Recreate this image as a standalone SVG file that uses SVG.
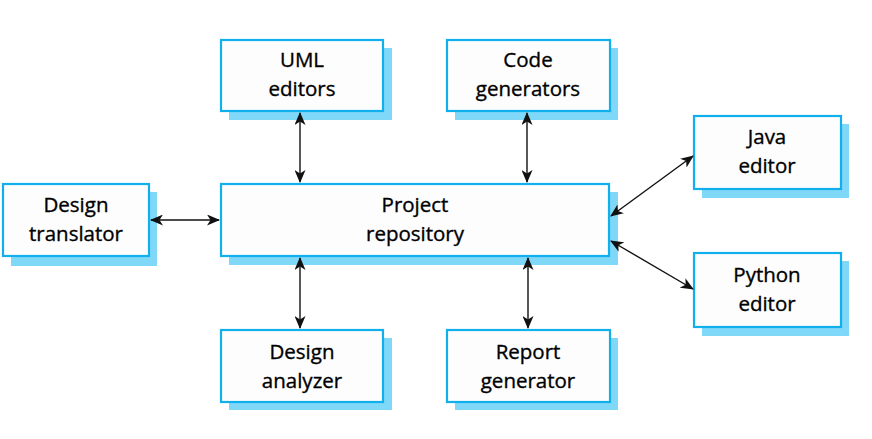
<svg xmlns="http://www.w3.org/2000/svg" width="872" height="439" viewBox="0 0 872 439">
<defs>
<style>
.sh{fill:#80D8F8;}
.bx{fill:#FDFDFD;stroke:#10B0EC;stroke-width:2.2;}
.t{font-family:"Open Sans","Noto Sans",sans-serif;font-size:20.5px;fill:#000;stroke:#000;stroke-width:0.35;text-anchor:middle;}
.c{stroke:#111;stroke-width:1.4;fill:none;marker-start:url(#a);marker-end:url(#a);}
</style>
<marker id="a" viewBox="0 0 13 11" refX="12" refY="5.5" markerWidth="13" markerHeight="11" markerUnits="userSpaceOnUse" orient="auto-start-reverse">
<path d="M0,0 L13,5.5 L0,11 L3.5,5.5 z" fill="#111"/>
</marker>
</defs>
<rect width="872" height="439" fill="#FFFFFF"/>
<g id="uml-editors">
<rect class="sh" x="229" y="48" width="163" height="72"/>
<rect class="bx" x="221" y="40" width="162" height="71"/>
<text class="t" x="302" y="67">UML</text>
<text class="t" x="302" y="96">editors</text>
</g>
<g id="code-generators">
<rect class="sh" x="455" y="48" width="163" height="72"/>
<rect class="bx" x="447" y="40" width="163" height="71"/>
<text class="t" x="528" y="67">Code</text>
<text class="t" x="528" y="96">generators</text>
</g>
<g id="project-repository">
<rect class="sh" x="229" y="192" width="389" height="73"/>
<rect class="bx" x="221" y="184" width="388" height="72"/>
<text class="t" x="415" y="212">Project</text>
<text class="t" x="415" y="241">repository</text>
</g>
<g id="design-translator">
<rect class="sh" x="11" y="192" width="146" height="74"/>
<rect class="bx" x="3" y="184" width="146" height="72"/>
<text class="t" x="76" y="212">Design</text>
<text class="t" x="76" y="241">translator</text>
</g>
<g id="java-editor">
<rect class="sh" x="702" y="124" width="147" height="74"/>
<rect class="bx" x="694" y="116" width="147" height="73"/>
<text class="t" x="767" y="144">Java</text>
<text class="t" x="767" y="173">editor</text>
</g>
<g id="python-editor">
<rect class="sh" x="702" y="261" width="147" height="75"/>
<rect class="bx" x="694" y="253" width="147" height="74"/>
<text class="t" x="767" y="282">Python</text>
<text class="t" x="767" y="311">editor</text>
</g>
<g id="design-analyzer">
<rect class="sh" x="229" y="338" width="163" height="72"/>
<rect class="bx" x="221" y="330" width="162" height="72"/>
<text class="t" x="302" y="359">Design</text>
<text class="t" x="302" y="388">analyzer</text>
</g>
<g id="report-generator">
<rect class="sh" x="455" y="338" width="163" height="72"/>
<rect class="bx" x="447" y="330" width="163" height="72"/>
<text class="t" x="528" y="359">Report</text>
<text class="t" x="528" y="388">generator</text>
</g>
<g id="connectors">
<line class="c" x1="300" y1="113" x2="300" y2="182"/>
<line class="c" x1="527" y1="113" x2="527" y2="182"/>
<line class="c" x1="300" y1="258" x2="300" y2="328"/>
<line class="c" x1="528" y1="258" x2="528" y2="328"/>
<line class="c" x1="151" y1="220" x2="219" y2="220"/>
<line class="c" x1="611" y1="216" x2="693" y2="156"/>
<line class="c" x1="611" y1="241" x2="693" y2="289"/>
</g>
</svg>
